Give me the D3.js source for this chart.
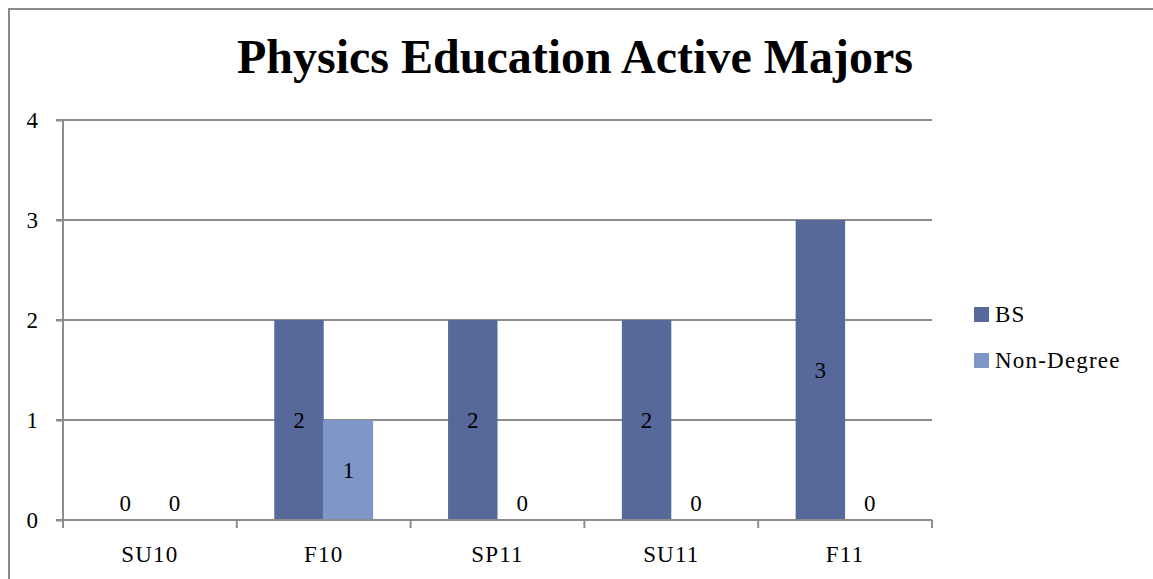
<!DOCTYPE html>
<html><head><meta charset="utf-8">
<script src="https://cdn.jsdelivr.net/npm/d3@7"></script>
<style>body{margin:0;background:#fff}svg{display:block}</style>
</head><body>
<script>
const categories = ["SU10","F10","SP11","SU11","F11"];
const seriesNames = ["BS","Non-Degree"];
const bsValues = [0,2,2,2,3];
const nonDegreeValues = [0,1,0,0,0];
const yTicks = [0,1,2,3,4];
const colors = ["#57689b","#7f96c9"];
const FONT = "'Liberation Serif', 'DejaVu Serif', serif";

(function(){
const W=1153,H=579;
const svg=d3.select("body").append("svg").attr("width",W).attr("height",H)
  .style("font-family",FONT);
svg.append("rect").attr("x",9).attr("y",9).attr("width",W+20).attr("height",H+20)
  .attr("fill","#fff").attr("stroke","#8a8a8a").attr("stroke-width",2);

const pL=63,pR=932,pT=120,pB=520;
const x0=d3.scaleBand().domain(categories).range([pL,pR]).padding(0);
const bw=x0.bandwidth();
const x1=d3.scaleBand().domain(seriesNames).range([bw*0.2155,bw*0.7845]).padding(0);
const y=d3.scaleLinear().domain([0,4]).range([pB,pT]);

const data=categories.map((c,i)=>({cat:c,vals:[bsValues[i],nonDegreeValues[i]]}));
const lab = sel => sel.style("font-size","23px").style("letter-spacing","1.2px").style("font-family",FONT).attr("fill","#000");

svg.append("g").selectAll("line").data(yTicks.filter(t=>t>0)).join("line")
  .attr("x1",pL-7).attr("x2",pR).attr("y1",d=>y(d)).attr("y2",d=>y(d))
  .attr("stroke","#8c8c8c").attr("stroke-width",2);

const g=svg.append("g").selectAll("g").data(data).join("g").attr("transform",d=>`translate(${x0(d.cat)},0)`);
g.selectAll("rect").data(d=>d.vals.map((v,j)=>({s:seriesNames[j],v,j}))).join("rect")
  .attr("x",d=>x1(d.s)).attr("width",x1.bandwidth())
  .attr("y",d=>y(d.v)).attr("height",d=>y(0)-y(d.v)).attr("fill",d=>colors[d.j]);
g.selectAll("text").data(d=>d.vals.map((v,j)=>({s:seriesNames[j],v,j}))).join("text")
  .attr("x",d=>x1(d.s)+x1.bandwidth()/2)
  .attr("y",d=>d.v>0?(y(d.v)+y(0))/2:y(0)-17)
  .attr("dy","0.35em").attr("text-anchor","middle").call(lab).style("letter-spacing","0px").text(d=>d.v);

const yAxis=svg.append("g").attr("transform",`translate(${pL},0)`)
  .call(d3.axisLeft(y).tickValues(yTicks).tickSize(7).tickPadding(18).tickFormat(d3.format("d")));
yAxis.select(".domain").attr("stroke","#8c8c8c").attr("stroke-width",2).attr("d",`M0,${pT}V${pB}`);
yAxis.selectAll(".tick line").attr("stroke","#8c8c8c").attr("stroke-width",2);
yAxis.selectAll(".tick text").call(lab).style("letter-spacing","0px");

const xAxis=svg.append("g").attr("transform",`translate(0,${pB})`)
  .call(d3.axisBottom(x0).tickSize(0).tickPadding(0));
xAxis.select(".domain").attr("stroke","#8c8c8c").attr("stroke-width",2).attr("d",`M${pL-7},0H${pR}`);
xAxis.selectAll(".tick text").call(lab).attr("y",42).attr("dy",0);
const bounds=categories.map(c=>x0(c)).concat([pR]);
xAxis.append("g").selectAll("line").data(bounds).join("line")
  .attr("x1",d=>d).attr("x2",d=>d).attr("y1",0).attr("y2",8).attr("stroke","#8c8c8c").attr("stroke-width",2);

svg.append("text").attr("x",575).attr("y",73).attr("text-anchor","middle")
  .style("font-size","48px").style("font-weight","bold").style("font-family",FONT).text("Physics Education Active Majors");

const lg=svg.append("g").selectAll("g").data(seriesNames).join("g")
  .attr("transform",(d,i)=>`translate(974,${307+i*46})`);
lg.append("rect").attr("width",15).attr("height",15).attr("fill",(d,i)=>colors[i]);
lg.append("text").attr("x",21).attr("y",15).call(lab).text(d=>d);
})();
</script>
</body></html>
